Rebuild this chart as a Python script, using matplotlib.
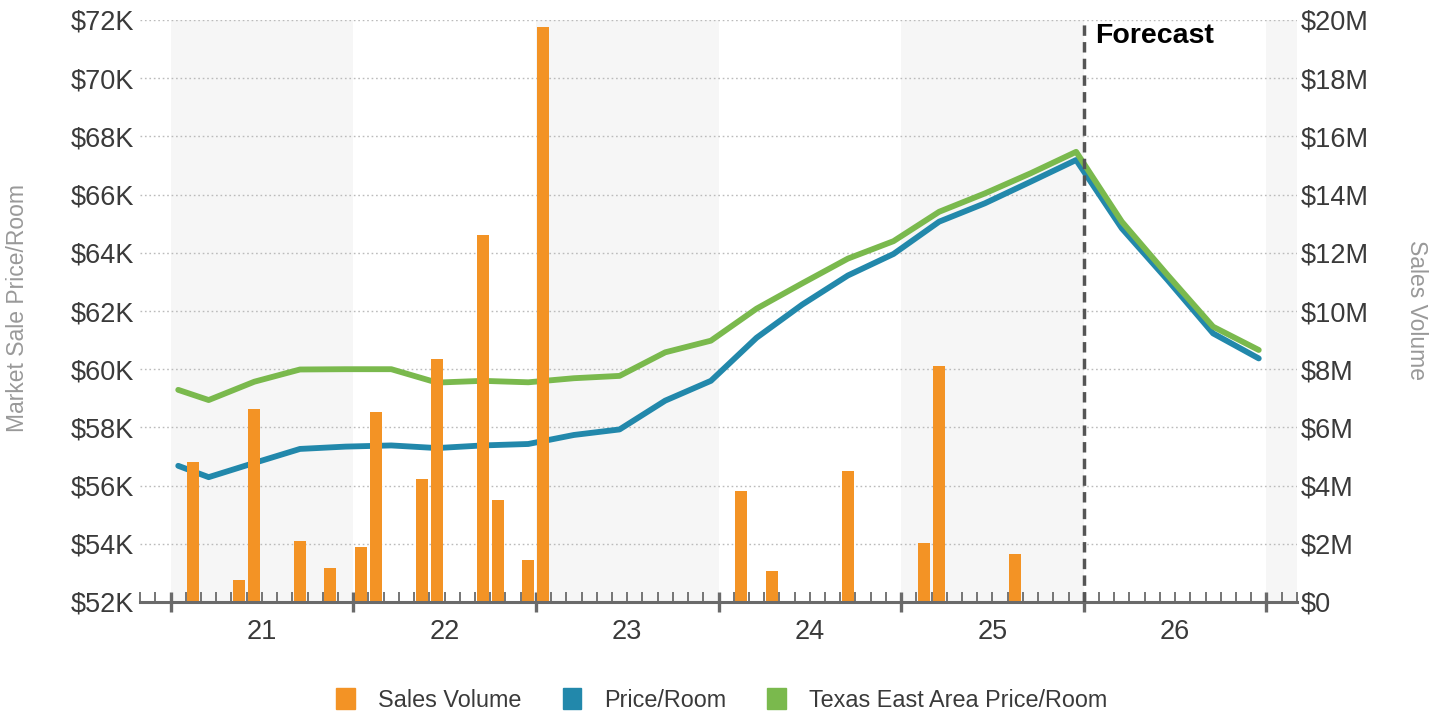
import matplotlib
matplotlib.use("Agg")
import matplotlib.pyplot as plt
import matplotlib.transforms as mtransforms
from matplotlib.patches import Patch

plt.rcParams['font.family'] = ['Liberation Sans', 'DejaVu Sans']

# ---------------- data ----------------
year_labels = ["21", "22", "23", "24", "25", "26"]
forecast_start = "2026-01"

sales_months = ["2021-02", "2021-05", "2021-06", "2021-09", "2021-11",
                "2022-01", "2022-02", "2022-05", "2022-06", "2022-09",
                "2022-10", "2022-12", "2023-01", "2024-02", "2024-04",
                "2024-09", "2025-02", "2025-03", "2025-08"]
sales_volume_m = [4.8, 0.77, 6.64, 2.09, 1.18,
                  1.9, 6.52, 4.23, 8.34, 12.6,
                  3.49, 1.44, 19.76, 3.8, 1.05,
                  4.5, 2.04, 8.11, 1.64]

line_months = ["2021-01",
               "2021-03", "2021-06", "2021-09", "2021-12",
               "2022-03", "2022-06", "2022-09", "2022-12",
               "2023-03", "2023-06", "2023-09", "2023-12",
               "2024-03", "2024-06", "2024-09", "2024-12",
               "2025-03", "2025-06", "2025-09", "2025-12",
               "2026-03", "2026-06", "2026-09", "2026-12"]
price_room_k = [56.68,
                56.29, 56.78, 57.26, 57.34,
                57.38, 57.29, 57.38, 57.43,
                57.74, 57.93, 58.92, 59.60,
                61.08, 62.22, 63.22, 63.96,
                65.07, 65.70, 66.44, 67.19,
                64.84, 63.07, 61.23, 60.37]
texas_east_k = [59.29,
                58.94, 59.57, 59.99, 60.0,
                60.0, 59.54, 59.60, 59.55,
                59.69, 59.77, 60.58, 60.98,
                62.08, 62.95, 63.80, 64.40,
                65.41, 66.04, 66.73, 67.47,
                65.07, 63.24, 61.46, 60.66]

left_ticks = [52, 54, 56, 58, 60, 62, 64, 66, 68, 70, 72]
left_labels = ["$52K", "$54K", "$56K", "$58K", "$60K", "$62K",
               "$64K", "$66K", "$68K", "$70K", "$72K"]
right_ticks = [0, 2, 4, 6, 8, 10, 12, 14, 16, 18, 20]
right_labels = ["$0", "$2M", "$4M", "$6M", "$8M", "$10M",
                "$12M", "$14M", "$16M", "$18M", "$20M"]

ORANGE = "#F39325"
BLUE = "#2288AB"
GREEN = "#7AB94D"
BAND = "#F6F6F6"
AXIS_GRAY = "#6A6A6A"
TEXT_DARK = "#3A3A3A"
LABEL_GRAY = "#999999"


def month_center(s):
    y, m = s.split("-")
    return int(y) + (int(m) - 0.5) / 12.0


def month_start(s):
    y, m = s.split("-")
    return int(y) + (int(m) - 1) / 12.0


first_year = 2000 + int(year_labels[0])
last_year = 2000 + int(year_labels[-1])

# ---------------- figure ----------------
fig = plt.figure(figsize=(14.44, 7.14), dpi=100)
W, H = 1444, 714
ax = fig.add_axes([140 / W, 1 - 602 / H, (1297 - 140) / W, 582 / H])

x0 = first_year - 2 / 12.0
x1 = last_year + 1 + 2 / 12.0
ax.set_xlim(x0 - 0.001, x1 + 0.001)
ax.set_ylim(left_ticks[0], left_ticks[-1])

# alternating shaded year bands
for yr in range(first_year, last_year + 2, 2):
    ax.axvspan(yr, yr + 1, color=BAND, lw=0, zorder=0)

ax.set_axisbelow(True)
ax.yaxis.grid(True, color="#BBBBBB", linestyle=(0, (1.2, 2.0)), lw=1.0)
ax.xaxis.grid(False)

lx = [month_center(m) for m in line_months]
ax.plot(lx, price_room_k, color=BLUE, lw=4.2, solid_capstyle="round",
        solid_joinstyle="round", zorder=3)
ax.plot(lx, texas_east_k, color=GREEN, lw=4.2, solid_capstyle="round",
        solid_joinstyle="round", zorder=4)

# x ticks
ax.set_xticks(list(range(first_year, last_year + 2)))
minor = []
k = 0
while x0 + k / 12.0 <= x1 + 1e-9:
    minor.append(x0 + k / 12.0)
    k += 1
ax.set_xticks(minor, minor=True)
ax.tick_params(axis="x", which="major", direction="inout", length=15,
               width=2.4, color=AXIS_GRAY, labelbottom=False)
ax.tick_params(axis="x", which="minor", direction="in", length=7.5,
               width=1.3, color=AXIS_GRAY)

ax.set_yticks(left_ticks)
ax.set_yticklabels(left_labels)
ax.tick_params(axis="y", length=0, pad=4, labelsize=19.5, labelcolor=TEXT_DARK)

for s in ["top", "right", "left", "bottom"]:
    ax.spines[s].set_visible(False)

# year labels
trans = mtransforms.blended_transform_factory(ax.transData, ax.transAxes)
for i, lab in enumerate(year_labels):
    ax.text(first_year + i + 0.5, -0.052, lab, transform=trans,
            ha="center", va="center", fontsize=19.5, color=TEXT_DARK)

# ---------------- bars on right axis ----------------
ax2 = ax.twinx()
ax2.set_ylim(right_ticks[0], right_ticks[-1])
bx = [month_center(m) for m in sales_months]
ax2.bar(bx, sales_volume_m, width=0.79 / 12.0, color=ORANGE, lw=0, zorder=2)
ax2.set_yticks(right_ticks)
ax2.set_yticklabels(right_labels)
ax2.tick_params(axis="y", length=0, pad=3, labelsize=19.5, labelcolor=TEXT_DARK)
for s in ["top", "right", "left"]:
    ax2.spines[s].set_visible(False)
ax2.spines["bottom"].set_color(AXIS_GRAY)
ax2.spines["bottom"].set_linewidth(2.2)
ax2.spines["bottom"].set_zorder(6)

fx = month_start(forecast_start)
ax2.axvline(fx, color="#555555", lw=2.5, ls=(0, (3.0, 1.8)), zorder=7)
trans2 = mtransforms.blended_transform_factory(ax2.transData, ax2.transAxes)
ax2.text(fx + 11 / 182.2, 0.9725, "Forecast", transform=trans2, ha="left",
         va="center", fontsize=20.5, fontweight="bold", color="black")

# axis titles
fig.text(18 / W, 1 - 308 / H, "Market Sale Price/Room", rotation=90,
         ha="center", va="center", fontsize=16.5, color=LABEL_GRAY)
fig.text(1417 / W, 1 - 310 / H, "Sales Volume", rotation=270,
         ha="center", va="center", fontsize=16.5, color=LABEL_GRAY)

# legend
handles = [Patch(color=ORANGE, label="Sales Volume"),
           Patch(color=BLUE, label="Price/Room"),
           Patch(color=GREEN, label="Texas East Area Price/Room")]
fig.legend(handles=handles, loc="center", bbox_to_anchor=(722 / W, 14 / H),
           ncol=3, frameon=False, fontsize=16.8, handlelength=0.8,
           handleheight=1.0, handletextpad=1.0, columnspacing=1.75,
           labelcolor=TEXT_DARK)

fig.savefig("out.png", dpi=100)
